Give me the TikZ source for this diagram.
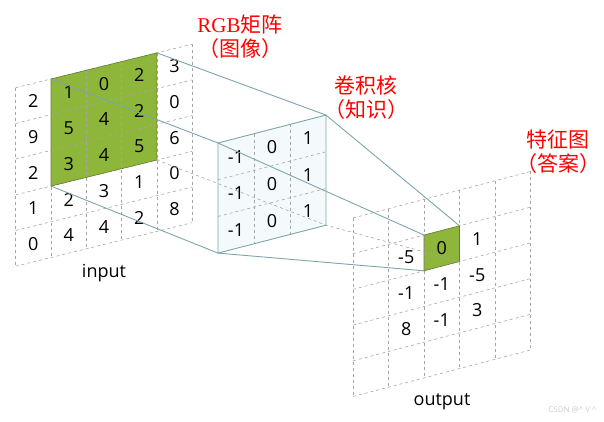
\documentclass[tikz,border=0pt]{standalone}
\usepackage{fontspec}
\setmainfont{Liberation Serif}
\newfontfamily\numf{Open Sans}
\newfontfamily\cjk{Noto Sans CJK SC}
\begin{document}
\begin{tikzpicture}[x=1pt,y=1pt,
  gl/.style={gray!70,dashed,line width=0.6pt},
  conn/.style={color={rgb,255:red,125;green,165;blue,172},line width=0.9pt},
  num/.style={font=\numf\fontsize{18}{18}\selectfont,inner sep=0pt},
  lab/.style={red,font=\fontsize{21}{24}\selectfont,align=center,inner sep=0pt}]
\definecolor{cgreen}{RGB}{141,182,58}
\definecolor{kfill}{RGB}{244,250,251}
\useasboundingbox (0,0) rectangle (604,422);
% ---- input grid
\begin{scope}[shift={(15.7,334.3)},x={(35.3pt,8.7pt)},y={(0pt,-35.7pt)}]
  \fill[cgreen] (1,0)--(4,0)--(4,3)--(1,3)--cycle;
  \foreach \i in {0,...,5}{\draw[gl] (\i,0)--(\i,5); \draw[gl] (0,\i)--(5,\i);}
  \draw[cgreen!70!black,line width=0.6pt] (1,0)--(4,0)--(4,3)--(1,3)--cycle;
  \coordinate (gTL) at (1,0); \coordinate (gTR) at (4,0);
  \coordinate (gBL) at (1,3); \coordinate (gBR) at (4,3);
  \foreach \c/\col in {0/{2,9,2,1,0},1/{1,5,3,2,4},2/{0,4,4,3,4},3/{2,2,5,1,2},4/{3,0,6,0,8}}{
    \foreach \v [count=\r from 0] in \col {\node[num] (in\c\r) at (\c+0.5,\r+0.5) {\v};}}
\end{scope}
\node[num] (input) at (104,149) {input};
% ---- output grid
\begin{scope}[shift={(353,204)},x={(35.5pt,9.3pt)},y={(0pt,-35.7pt)}]
  \fill[cgreen] (2,1)--(3,1)--(3,2)--(2,2)--cycle;
  \foreach \i in {0,...,5}{\draw[gl] (\i,0)--(\i,5); \draw[gl] (0,\i)--(5,\i);}
  \draw[cgreen!70!black,line width=0.6pt] (2,1)--(3,1)--(3,2)--(2,2)--cycle;
  \coordinate (oTL) at (2,1); \coordinate (oTR) at (3,1);
  \coordinate (oBL) at (2,2); \coordinate (oBR) at (3,2);
  \node[num] (o11) at (1.5,1.5) {-5};
  \node[num] (o21) at (2.5,1.5) {0};
  \node[num] (o31) at (3.5,1.5) {1};
  \node[num] (o12) at (1.5,2.5) {-1};
  \node[num] (o22) at (2.5,2.5) {-1};
  \node[num] (o32) at (3.5,2.5) {-5};
  \node[num] (o13) at (1.5,3.5) {8};
  \node[num] (o23) at (2.5,3.5) {-1};
  \node[num] (o33) at (3.5,3.5) {3};
\end{scope}
\node[num] (output) at (442,20) {output};
% ---- kernel
\begin{scope}[shift={(218,279)},x={(36pt,9.3pt)},y={(0pt,-36.7pt)}]
  \coordinate (kTL) at (0,0); \coordinate (kTR) at (3,0);
  \coordinate (kBL) at (0,3); \coordinate (kBR) at (3,3);
\end{scope}
\draw[conn] (gTR)--(kTR);
\draw[conn] (gTL)--(kTL);
\draw[conn] (gBL)--(kBL);
\fill[kfill] (kTL)--(kTR)--(kBR)--(kBL)--cycle;
\draw[gl] (gBR)--(kBR)--(oBR);
\begin{scope}[shift={(218,279)},x={(36pt,9.3pt)},y={(0pt,-36.7pt)}]
  \foreach \i in {1,2}{\draw[gl] (\i,0)--(\i,3); \draw[gl] (0,\i)--(3,\i);}
  \foreach \c/\v in {0/-1,1/0,2/1}{\foreach \r in {0,1,2}{\node[num] (k\c\r) at (\c+0.5,\r+0.5) {\v};}}
\end{scope}
\draw[conn] (kTL)--(kTR)--(kBR)--(kBL)--cycle;
\draw[conn] (kTR)--(oTR);
\draw[conn] (kTL)--(oTL);
\draw[conn] (kBL)--(oBL);
% ---- labels
\node[lab] (l1) at (240,385) {RGB{\cjk 矩阵}\\{\cjk （图像）}};
\node[lab] (l2) at (366,324) {{\cjk 卷积核}\\{\cjk （知识）}};
\node[lab] (l3) at (558,270) {{\cjk 特征图}\\{\cjk （答案）}};
\node[gray!40,font=\numf\fontsize{8}{8}\selectfont,anchor=east] (wm) at (600,12) {CSDN @\^{} V \^{}};
\end{tikzpicture}
\end{document}
